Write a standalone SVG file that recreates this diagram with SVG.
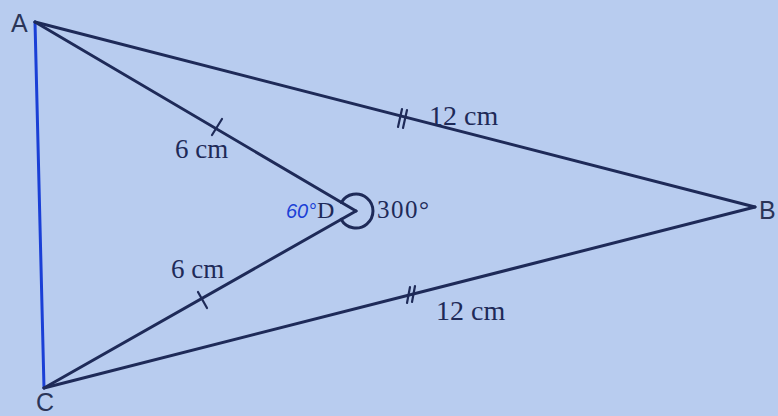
<svg xmlns="http://www.w3.org/2000/svg" width="778" height="416" viewBox="0 0 778 416">
<style>
.edge{stroke:#1e2a58;stroke-width:3;stroke-linecap:round;fill:none}
.blue{stroke:#1a3fd6;stroke-width:3;fill:none;stroke-linecap:round}
.tick{stroke:#1e2a58;stroke-width:2.2;stroke-linecap:round;fill:none}
.lbl{font-family:"Liberation Serif",serif;fill:#1e2a58}
.pt{font-family:"Liberation Sans",sans-serif;fill:#2a3558;font-size:25px}
</style>
<rect width="778" height="416" fill="#b8ccef"/>
<g id="connectors">
  <line class="blue" x1="35" y1="22" x2="44" y2="388"/>
  <line class="edge" x1="35" y1="22" x2="755" y2="207"/>
  <line class="edge" x1="35" y1="22" x2="356" y2="211"/>
  <line class="edge" x1="44" y1="388" x2="356" y2="211"/>
  <line class="edge" x1="44" y1="388" x2="755" y2="207"/>
  <line class="tick" x1="212" y1="135" x2="222" y2="119"/>
  <line class="tick" x1="198" y1="292" x2="207" y2="308"/>
  <line class="tick" x1="398" y1="127" x2="402" y2="109"/>
  <line class="tick" x1="403" y1="128" x2="407" y2="110"/>
  <line class="tick" x1="407" y1="303" x2="410" y2="287"/>
  <line class="tick" x1="412" y1="302" x2="415" y2="286"/>
  <path class="edge" d="M341.3 202.4 A17 17 0 1 1 341.2 219.4" stroke-width="2.5"/>
</g>
<g id="A"><text class="pt" x="11" y="32">A</text></g>
<g id="B"><text class="pt" x="759" y="219">B</text></g>
<g id="C"><text class="pt" x="36" y="411" font-size="22">C</text></g>
<g id="D"><text class="lbl" x="317" y="218" font-size="24">D</text></g>
<g id="labels">
  <text class="lbl" x="175" y="158" font-size="27">6 cm</text>
  <text class="lbl" x="171" y="278" font-size="27">6 cm</text>
  <text class="lbl" x="429" y="125" font-size="28">12 cm</text>
  <text class="lbl" x="436" y="320" font-size="28">12 cm</text>
  <text class="lbl" x="377" y="218" font-size="25" letter-spacing="1.5">300°</text>
  <text x="286" y="218" font-family="'Liberation Sans',sans-serif" font-style="italic" font-size="20" fill="#1a3fd6">60°</text>
</g>
</svg>
